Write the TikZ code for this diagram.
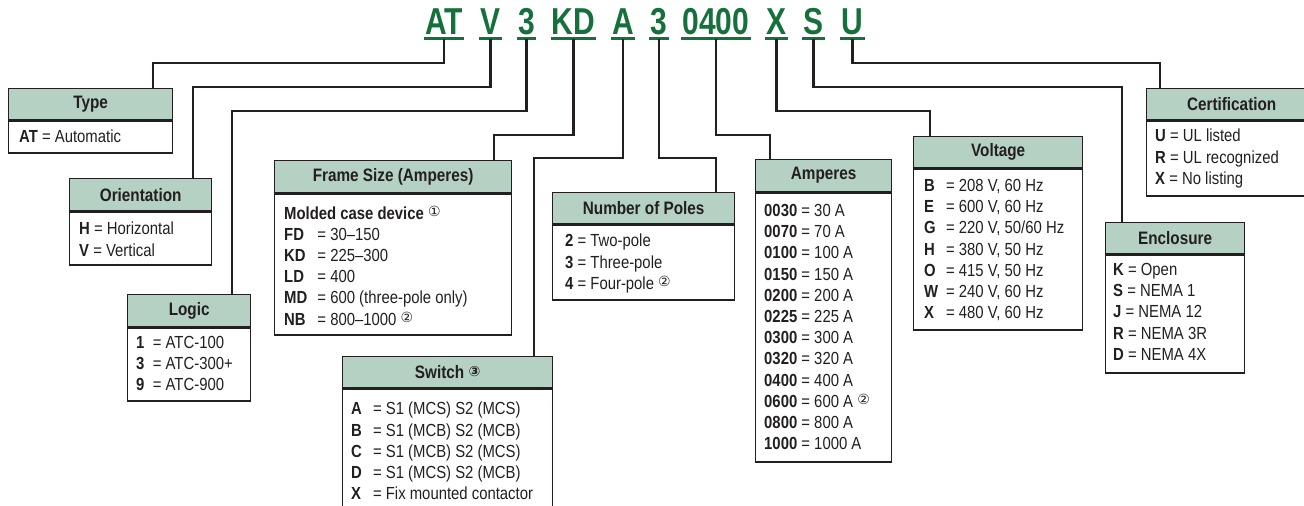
\documentclass[tikz,border=0pt]{standalone}
\usepackage{fontspec}
\setmainfont{Liberation Sans}[FakeStretch=0.85]
\newfontfamily\codefont{Liberation Sans}[FakeStretch=0.8]
\newfontfamily\circfont{DejaVu Sans}
\definecolor{codegreen}{RGB}{22,112,60}
\definecolor{headfill}{RGB}{180,209,196}
\definecolor{ink}{RGB}{35,31,32}
\newcommand{\circnote}[1]{{\circfont\fontsize{14}{14}\selectfont\raisebox{2.5pt}{#1}}}
\newcommand{\codekey}[2]{\makebox[#1][l]{\bfseries #2}}
\begin{document}
\begin{tikzpicture}[x=1pt, y=-1pt,
  code/.style={font=\codefont\bfseries\fontsize{37.5}{40}\selectfont, text=codegreen, anchor=south, inner xsep=1pt, inner ysep=3.5pt, text depth=0pt},
  uline/.style={draw=codegreen, line width=2.5pt},
  head/.style={draw=ink, fill=headfill, line width=1.3pt, anchor=north west, inner sep=0pt, text=ink, font=\bfseries\fontsize{18}{20}\selectfont},
  bodybox/.style={draw=ink, line width=1.3pt, anchor=north west, inner sep=0pt},
  listing/.style={anchor=north west, inner sep=0pt, align=left, text=ink, font=\fontsize{17.5}{21.2}\selectfont},
  link/.style={draw=ink, line width=2.3pt}]
\useasboundingbox (0,0) rectangle (1304,506);

% ordering code
\node[code] (cAT) at (444,38.5) {AT};
\node[code] (cV) at (490.5,38.5) {V};
\node[code] (cL) at (526.5,38.5) {3};
\node[code] (cKD) at (573.5,38.5) {KD};
\node[code] (cA) at (623,38.5) {A};
\node[code] (cP) at (659,38.5) {3};
\node[code] (cAmp) at (716,38.5) {0400};
\node[code] (cX) at (776.5,38.5) {X};
\node[code] (cS) at (813.5,38.5) {S};
\node[code] (cU) at (852.5,38.5) {U};
\foreach \c in {cAT,cV,cL,cKD,cA,cP,cAmp,cX,cS,cU}
  \draw[uline] (\c.south west) -- (\c.south east);

% boxes
\node[head, minimum width=164pt, minimum height=31pt] (typ) at (8,88) {Type};
\node[bodybox, minimum width=164pt, minimum height=32pt] (typ-b) at (typ.south west) {};
\node[listing] (typ-l) at (19,130) {\textbf{AT} = Automatic};

\node[head, minimum width=142pt, minimum height=32pt] (ori) at (69,178) {Orientation};
\node[bodybox, minimum width=142pt, minimum height=53pt] (ori-b) at (ori.south west) {};
\node[listing] (ori-l) at (79,222) {\textbf{H} = Horizontal\\\textbf{V} = Vertical};

\node[head, minimum width=123pt, minimum height=32pt] (lgc) at (127,294) {Logic};
\node[bodybox, minimum width=123pt, minimum height=73pt] (lgc-b) at (lgc.south west) {};
\node[listing] (lgc-l) at (136,336) {\codekey{0.95em}{1}= ATC-100\\\codekey{0.95em}{3}= ATC-300+\\\codekey{0.95em}{9}= ATC-900};

\node[head, minimum width=237pt, minimum height=32pt] (frm) at (274,160) {Frame Size (Amperes)};
\node[bodybox, minimum width=237pt, minimum height=141pt] (frm-b) at (frm.south west) {};
\node[listing] (frm-l) at (284,206) {\textbf{Molded case device} \circnote{①}\\
  \codekey{1.9em}{FD}= 30–150\\\codekey{1.9em}{KD}= 225–300\\\codekey{1.9em}{LD}= 400\\
  \codekey{1.9em}{MD}= 600 (three-pole only)\\\codekey{1.9em}{NB}= 800–1000 \circnote{②}};

\node[head, minimum width=210pt, minimum height=31pt] (swi) at (342,356) {Switch \circnote{③}};
\node[bodybox, minimum width=210pt, minimum height=140pt] (swi-b) at (swi.south west) {};
\node[listing] (swi-l) at (351,402) {\codekey{1.25em}{A}= S1 (MCS) S2 (MCS)\\\codekey{1.25em}{B}= S1 (MCB) S2 (MCB)\\
  \codekey{1.25em}{C}= S1 (MCB) S2 (MCS)\\\codekey{1.25em}{D}= S1 (MCS) S2 (MCB)\\
  \codekey{1.25em}{X}= Fix mounted contactor};

\node[head, minimum width=182pt, minimum height=31pt] (pol) at (552,192) {Number of Poles};
\node[bodybox, minimum width=182pt, minimum height=75pt] (pol-b) at (pol.south west) {};
\node[listing] (pol-l) at (565,234) {\textbf{2} = Two-pole\\\textbf{3} = Three-pole\\\textbf{4} = Four-pole \circnote{②}};

\node[head, minimum width=136pt, minimum height=32pt] (amp) at (755,159) {Amperes};
\node[bodybox, minimum width=136pt, minimum height=269pt] (amp-b) at (amp.south west) {};
\node[listing] (amp-l) at (764,204) {\textbf{0030} = 30 A\\\textbf{0070} = 70 A\\\textbf{0100} = 100 A\\
  \textbf{0150} = 150 A\\\textbf{0200} = 200 A\\\textbf{0225} = 225 A\\\textbf{0300} = 300 A\\
  \textbf{0320} = 320 A\\\textbf{0400} = 400 A\\\textbf{0600} = 600 A \circnote{②}\\
  \textbf{0800} = 800 A\\\textbf{1000} = 1000 A};

\node[head, minimum width=169pt, minimum height=31pt] (vol) at (913,136) {Voltage};
\node[bodybox, minimum width=169pt, minimum height=161pt] (vol-b) at (vol.south west) {};
\node[listing] (vol-l) at (924,179) {\codekey{1.25em}{B}= 208 V, 60 Hz\\\codekey{1.25em}{E}= 600 V, 60 Hz\\
  \codekey{1.25em}{G}= 220 V, 50/60 Hz\\\codekey{1.25em}{H}= 380 V, 50 Hz\\\codekey{1.25em}{O}= 415 V, 50 Hz\\
  \codekey{1.25em}{W}= 240 V, 60 Hz\\\codekey{1.25em}{X}= 480 V, 60 Hz};

\node[head, minimum width=139pt, minimum height=31pt] (enc) at (1105,222) {Enclosure};
\node[bodybox, minimum width=139pt, minimum height=118pt] (enc-b) at (enc.south west) {};
\node[listing] (enc-l) at (1113,263) {\textbf{K} = Open\\\textbf{S} = NEMA 1\\\textbf{J} = NEMA 12\\
  \textbf{R} = NEMA 3R\\\textbf{D} = NEMA 4X};

\node[head, minimum width=170pt, minimum height=31pt] (cer) at (1146,88) {Certification};
\node[bodybox, minimum width=170pt, minimum height=75pt] (cer-b) at (cer.south west) {};
\node[listing] (cer-l) at (1155,129) {\textbf{U} = UL listed\\\textbf{R} = UL recognized\\\textbf{X} = No listing};

% leaders
\draw[link] (cAT.south) -- ++(0,24.5) -| ([xshift=145pt]typ.north west);
\draw[link] (cV.south) -- ++(0,48.5) -| ([xshift=124pt]ori.north west);
\draw[link] (cL.south) -- ++(0,72.5) -| ([xshift=105pt]lgc.north west);
\draw[link] (cKD.south) -- ++(0,96.5) -| ([xshift=220pt]frm.north west);
\draw[link] (cA.south) -- ++(0,119.5) -| ([xshift=192pt]swi.north west);
\draw[link] (cP.south) -- ++(0,119.5) -| ([xshift=164pt]pol.north west);
\draw[link] (cAmp.south) -- ++(0,96.5) -| ([xshift=15pt]amp.north west);
\draw[link] (cX.south) -- ++(0,72.5) -| ([xshift=17pt]vol.north west);
\draw[link] (cS.south) -- ++(0,48.5) -| ([xshift=17pt]enc.north west);
\draw[link] (cU.south) -- ++(0,24.5) -| ([xshift=14pt]cer.north west);
\end{tikzpicture}
\end{document}
